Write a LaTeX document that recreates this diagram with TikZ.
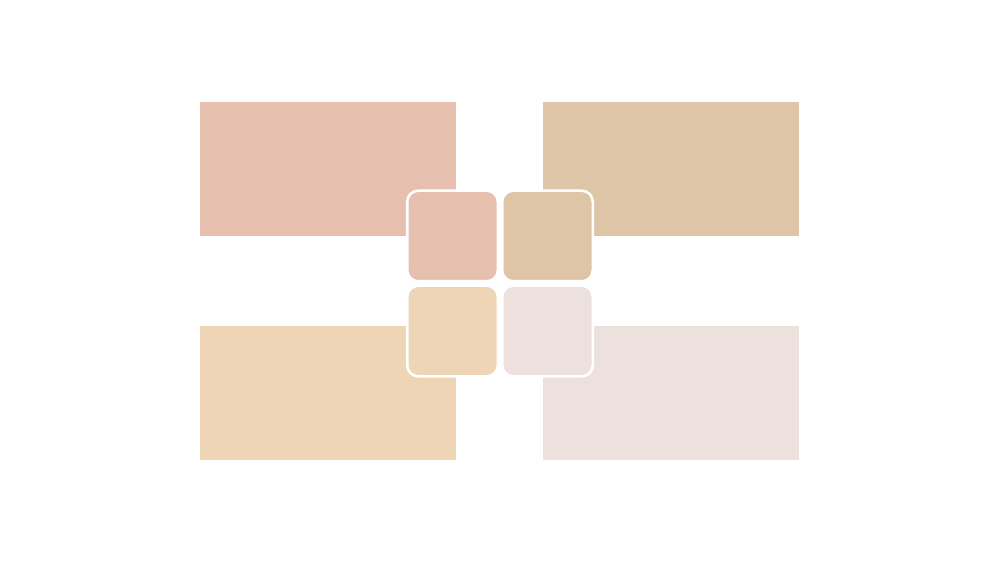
\documentclass[tikz,border=0pt]{standalone}
\usepackage{tikz}

\definecolor{rosa}{HTML}{E7BFAF}
\definecolor{areia}{HTML}{DFC5A7}
\definecolor{creme}{HTML}{EED5B6}
\definecolor{nevoa}{HTML}{ECE1DD}

\begin{document}
\begin{tikzpicture}[scale=1, %Início do desenho e definição da escala
	bloco/.style={rectangle, inner sep=0pt, outer sep=0pt, minimum width=2.56cm, minimum height=1.34cm},
	quadro/.style={rectangle, rounded corners=0.11cm, draw=white, line width=0.026cm, inner sep=0pt, outer sep=0pt, minimum size=0.906cm}]
					\useasboundingbox (0,0) rectangle (10,5.63); %Margens
						%Blocos
					\node[bloco, fill=rosa] (b1) at (3.28,3.94) {}; %Bloco superior esquerdo
					\node[bloco, fill=areia] (b2) at (6.71,3.94) {}; %Bloco superior direito
					\node[bloco, fill=creme] (b3) at (3.28,1.70) {}; %Bloco inferior esquerdo
					\node[bloco, fill=nevoa] (b4) at (6.71,1.70) {}; %Bloco inferior direito
						%Quadros centrais
					\node[quadro, fill=rosa] (q1) at (4.525,3.27) {}; %Primeiro quadro
					\node[quadro, fill=areia] (q2) at (5.475,3.27) {}; %Segundo quadro
					\node[quadro, fill=creme] (q3) at (4.525,2.32) {}; %Terceiro quadro
					\node[quadro, fill=nevoa] (q4) at (5.475,2.32) {}; %Quarto quadro
				\end{tikzpicture}
\end{document}
